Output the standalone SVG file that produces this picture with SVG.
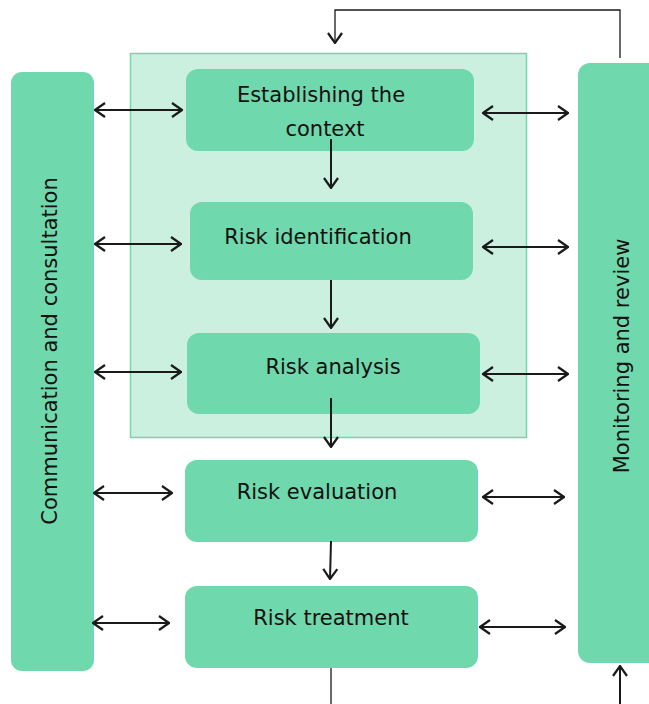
<svg xmlns="http://www.w3.org/2000/svg" width="649" height="704" viewBox="0 0 649 704">
<style>
.node{fill:#6fd8ad;}
.lbl{font-family:"DejaVu Sans",sans-serif;font-size:21px;fill:#111;text-anchor:middle;}
.c{stroke:#1a1a1a;stroke-width:2;fill:none;}
.thin{stroke:#1a1a1a;stroke-width:1.3;fill:none;}
</style>
<defs>
<marker id="ah" viewBox="0 0 12 16" refX="11" refY="8" markerWidth="12" markerHeight="16" markerUnits="userSpaceOnUse" orient="auto-start-reverse">
<path d="M1,1 L11,8 L1,15" fill="none" stroke="#1a1a1a" stroke-width="2.2"/>
</marker>
</defs>
<rect width="649" height="704" fill="#ffffff"/>
<g id="outer"><rect x="130.5" y="53.5" width="396" height="384" fill="#cbf0e0" stroke="#6fd8ad" stroke-width="1.5"/></g>
<g id="comm"><rect class="node" x="11" y="72" width="83" height="599" rx="11"/>
<text class="lbl" transform="translate(57,351) rotate(-90)">Communication and consultation</text></g>
<g id="monitor"><rect class="node" x="578" y="63" width="90" height="600" rx="12"/>
<text class="lbl" transform="translate(629,356) rotate(-90)">Monitoring and review</text></g>
<g id="n1"><rect class="node" x="186" y="69" width="288" height="82" rx="12"/>
<text class="lbl" x="321" y="102">Establishing the</text><text class="lbl" x="325" y="136">context</text></g>
<g id="n2"><rect class="node" x="190" y="202" width="283" height="78" rx="12"/>
<text class="lbl" x="318" y="244">Risk identification</text></g>
<g id="n3"><rect class="node" x="187" y="333" width="293" height="81" rx="12"/>
<text class="lbl" x="333" y="374">Risk analysis</text></g>
<g id="n4"><rect class="node" x="185" y="460" width="293" height="82" rx="12"/>
<text class="lbl" x="317" y="499">Risk evaluation</text></g>
<g id="n5"><rect class="node" x="185" y="586" width="293" height="82" rx="12"/>
<text class="lbl" x="331" y="625">Risk treatment</text></g>
<g id="connectors">
<polyline class="thin" points="620,58 620,10 335,10 335,43" marker-end="url(#ah)"/>
<line class="c" x1="331" y1="139" x2="331" y2="188" marker-end="url(#ah)"/>
<line class="c" x1="331" y1="280" x2="331" y2="328" marker-end="url(#ah)"/>
<line class="c" x1="331" y1="398" x2="331" y2="447" marker-end="url(#ah)"/>
<line class="c" x1="331" y1="541" x2="330" y2="579" marker-end="url(#ah)"/>
<line class="thin" x1="331" y1="668" x2="331" y2="704"/>
<line class="c" x1="620" y1="704" x2="620" y2="666" marker-end="url(#ah)"/>
<line class="c" x1="95" y1="110" x2="182" y2="110" marker-start="url(#ah)" marker-end="url(#ah)"/>
<line class="c" x1="483" y1="113" x2="568" y2="113" marker-start="url(#ah)" marker-end="url(#ah)"/>
<line class="c" x1="95" y1="244" x2="181" y2="244" marker-start="url(#ah)" marker-end="url(#ah)"/>
<line class="c" x1="483" y1="247" x2="568" y2="247" marker-start="url(#ah)" marker-end="url(#ah)"/>
<line class="c" x1="95" y1="372" x2="181" y2="372" marker-start="url(#ah)" marker-end="url(#ah)"/>
<line class="c" x1="483" y1="374" x2="568" y2="374" marker-start="url(#ah)" marker-end="url(#ah)"/>
<line class="c" x1="94" y1="493" x2="172" y2="493" marker-start="url(#ah)" marker-end="url(#ah)"/>
<line class="c" x1="483" y1="497" x2="564" y2="497" marker-start="url(#ah)" marker-end="url(#ah)"/>
<line class="c" x1="93" y1="623" x2="169" y2="623" marker-start="url(#ah)" marker-end="url(#ah)"/>
<line class="c" x1="480" y1="627" x2="565" y2="627" marker-start="url(#ah)" marker-end="url(#ah)"/>
</g>
</svg>
